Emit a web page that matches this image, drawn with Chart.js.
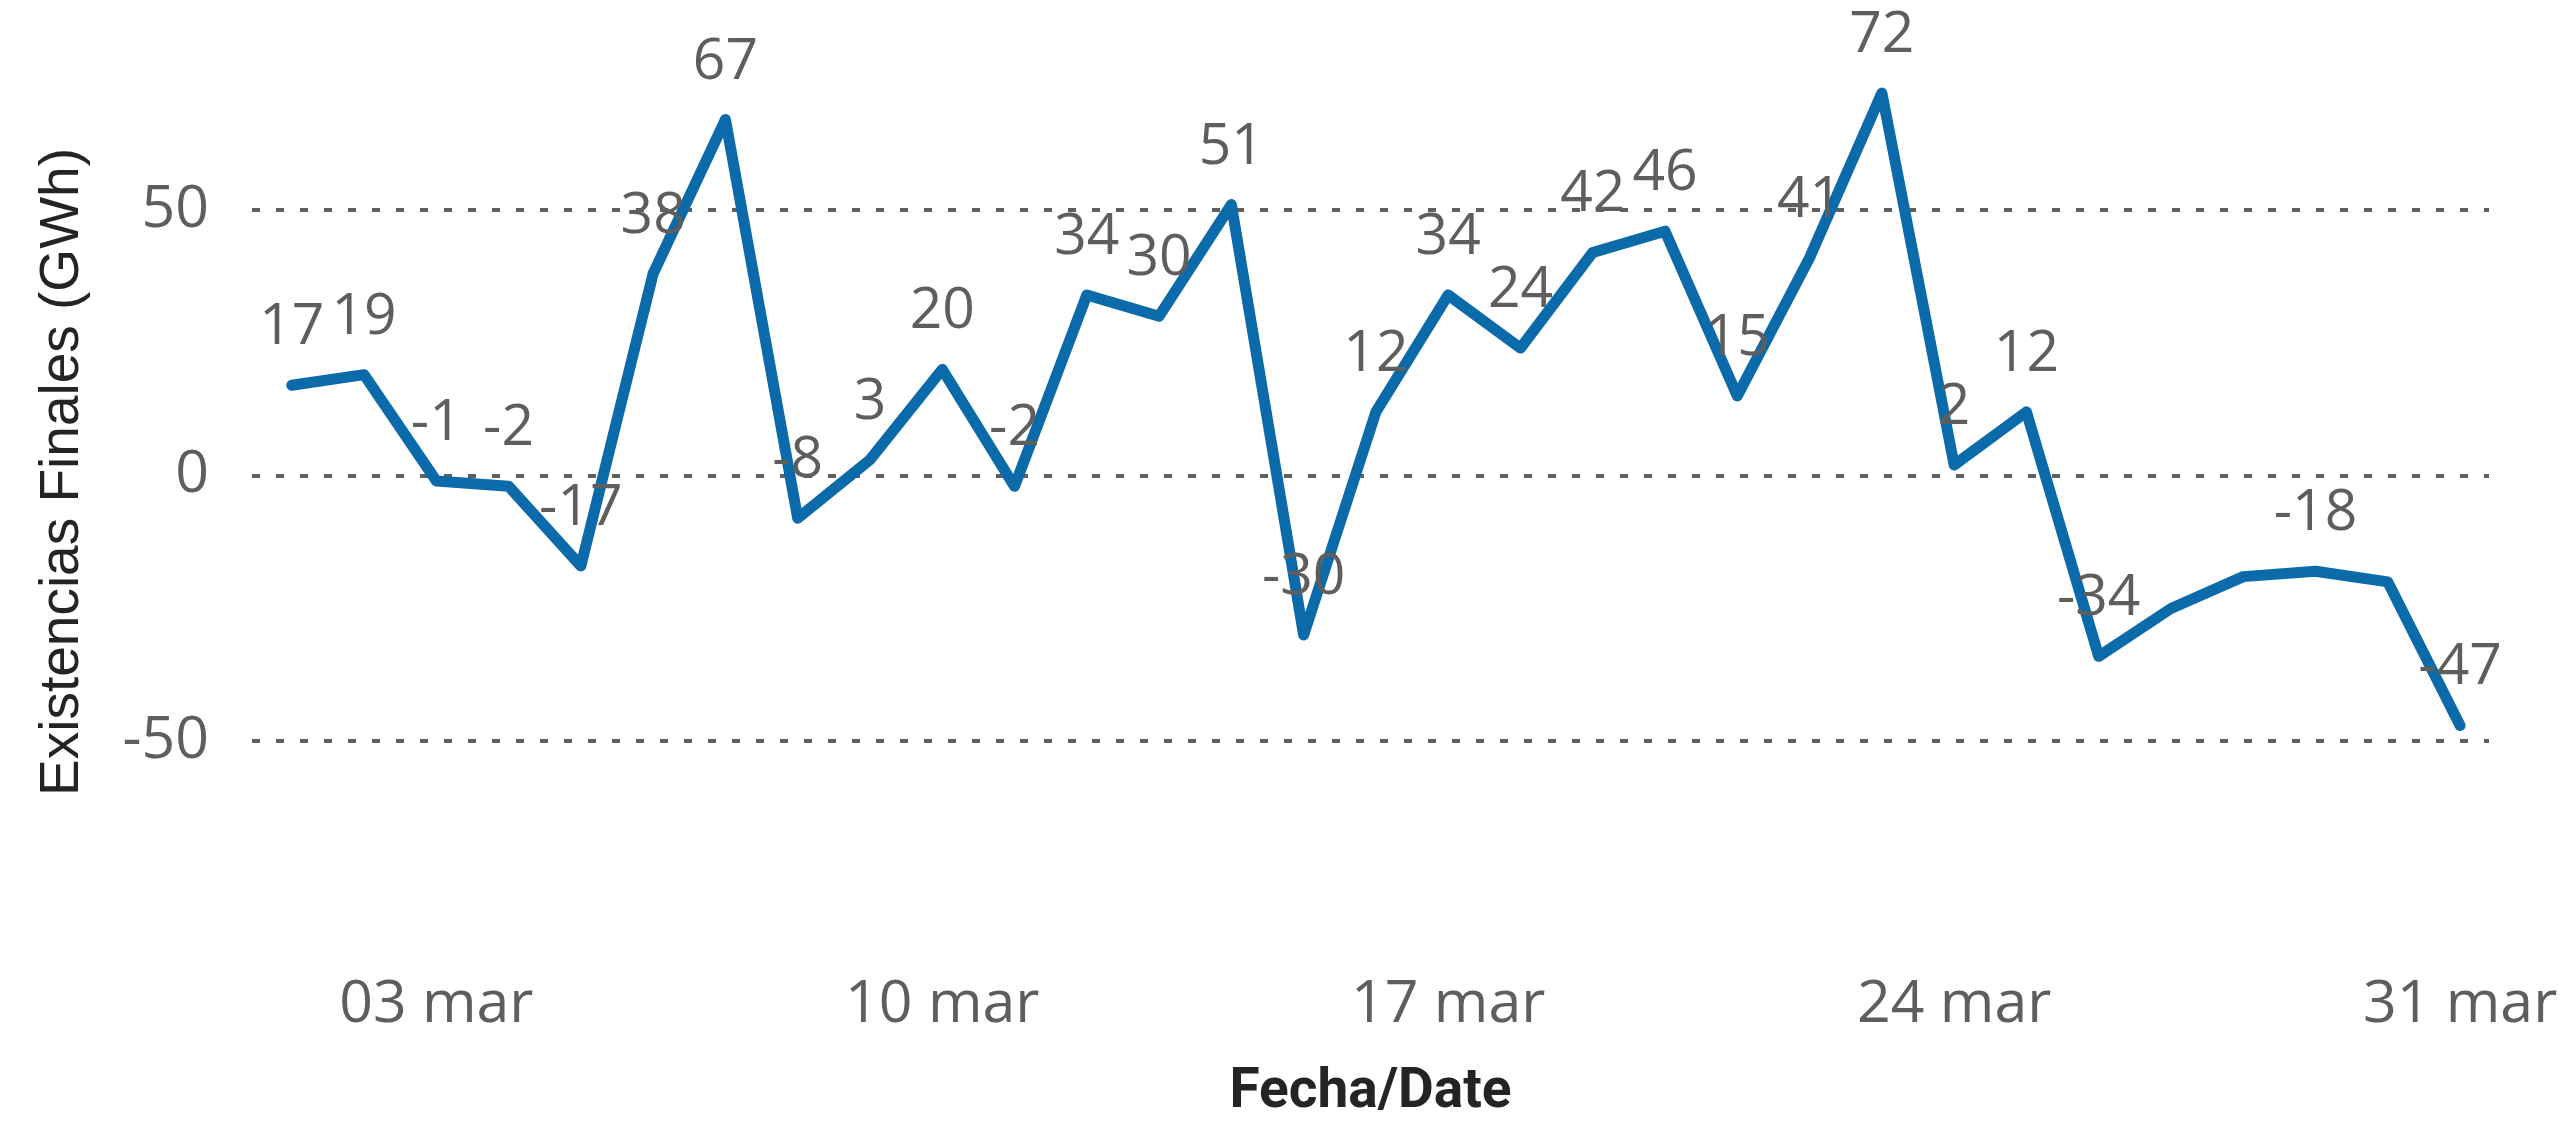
<!DOCTYPE html>
<html>
<head>
<meta charset="utf-8">
<script src="https://cdn.jsdelivr.net/npm/chart.js@4.4.1/dist/chart.umd.min.js"></script>
<style>
  html, body { margin: 0; padding: 0; background: #fff; }
  #wrap { width: 2569px; height: 1121px; }
</style>
</head>
<body>
<div id="wrap"><canvas id="stockChart"></canvas></div>
<script>
// Days of March and final stock (GWh)
const days = [1, 2, 3, 4, 5, 6, 7, 8, 9, 10, 11, 12, 13, 14, 15, 16,
              17, 18, 19, 20, 21, 22, 23, 24, 25, 26, 27, 28, 29, 30, 31];
const values = [17, 19, -1, -2, -17, 38, 67, -8, 3, 20, -2, 34, 30, 51, -30, 12,
                34, 24, 42, 46, 15, 41, 72, 2, 12, -34, -25, -19, -18, -20, -47];
// labels that the original hides (overlap)
const hiddenLabels = [26, 27, 29];

const tickDays = [3, 10, 17, 24, 31];
const tickLabels = ['03 mar', '10 mar', '17 mar', '24 mar', '31 mar'];
const yTicks = [-50, 0, 50];

const lineColor = '#0B6BAA';
const textGray = '#605E5C';

// Draws the value above each point
const pointLabels = {
    id: 'pointLabels',
    afterDatasetsDraw(chart) {
        const ctx = chart.ctx;
        const meta = chart.getDatasetMeta(0);
        ctx.save();
        ctx.font = '57px "Open Sans"';
        ctx.fillStyle = textGray;
        ctx.textAlign = 'center';
        ctx.textBaseline = 'alphabetic';
        meta.data.forEach((pt, i) => {
            if (hiddenLabels.includes(i)) return;
            ctx.fillText(String(values[i]), pt.x, pt.y - 41);
        });
        ctx.restore();
    }
};

const ctx = document.getElementById('stockChart').getContext('2d');
new Chart(ctx, {
    type: 'line',
    data: {
        datasets: [{
            label: 'Existencias Finales (GWh)',
            data: days.map((d, i) => ({ x: d, y: values[i] })),
            borderColor: lineColor,
            borderWidth: 11,
            borderJoinStyle: 'round',
            borderCapStyle: 'round',
            pointRadius: 0,
            tension: 0,
            fill: false
        }]
    },
    options: {
        responsive: true,
        maintainAspectRatio: false,
        animation: false,
        layout: { padding: { left: 0, right: 80, top: 0, bottom: 0 } },
        plugins: {
            legend: { display: false },
            tooltip: { enabled: false }
        },
        scales: {
            x: {
                type: 'linear',
                min: 0.45,
                max: 31.4,
                afterBuildTicks: (scale) => { scale.ticks = tickDays.map(v => ({ value: v })); },
                afterFit: (scale) => {
                    scale.height = 177;
                    scale.paddingLeft = 0;
                    scale.paddingRight = 0;
                },
                grid: { display: false, drawTicks: false },
                border: { display: false },
                ticks: {
                    padding: 26,
                    color: textGray,
                    font: { family: 'Open Sans', size: 59 },
                    callback: (v) => tickLabels[tickDays.indexOf(v)]
                },
                title: {
                    display: true,
                    text: 'Fecha/Date',
                    color: '#252423',
                    font: { family: 'Roboto', size: 55, weight: 'bold', lineHeight: 1 },
                    padding: { top: 0, bottom: 0 }
                }
            },
            y: {
                min: -88.13,
                max: 89.5,
                afterBuildTicks: (scale) => { scale.ticks = yTicks.map(v => ({ value: v })); },
                afterFit: (scale) => {
                    scale.width = 252;
                    scale.paddingTop = 0;
                    scale.paddingBottom = 0;
                },
                grid: {
                    color: '#5F5F5F',
                    lineWidth: 4,
                    drawTicks: false
                },
                border: { display: false, dash: [8, 16] },
                ticks: {
                    padding: 43,
                    color: textGray,
                    font: { family: 'Open Sans', size: 59 }
                },
                title: {
                    display: true,
                    text: 'Existencias Finales (GWh)',
                    color: '#252423',
                    font: { family: 'Liberation Sans', size: 55, lineHeight: 1.2 },
                    padding: { top: 30, bottom: 0 }
                }
            }
        }
    },
    plugins: [pointLabels]
});
</script>
</body>
</html>
